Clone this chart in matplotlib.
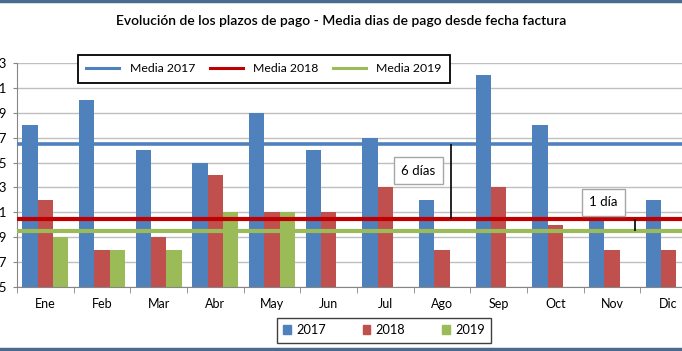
import numpy as np
import matplotlib.pyplot as plt
from matplotlib.lines import Line2D
from matplotlib.patches import Patch, Rectangle

# data
meses = ['Ene', 'Feb', 'Mar', 'Abr', 'May', 'Jun', 'Jul', 'Ago', 'Sep', 'Oct', 'Nov', 'Dic']
dias_2017 = [68, 70, 66, 65, 69, 66, 67, 62, 72, 68, 61, 62]
dias_2018 = [62, 58, 59, 64, 61, 61, 63, 58, 63, 60, 58, 58]
dias_2019 = [59, 58, 58, 61, 61, np.nan, np.nan, np.nan, np.nan, np.nan, np.nan, np.nan]
media_2017 = 66.5
media_2018 = 60.5
media_2019 = 59.5

c17 = '#4F81BD'
c18 = '#C0504D'
c19 = '#9BBB59'

plt.rcParams['font.family'] = ['Lato', 'DejaVu Sans']

W, H = 682, 351
fig = plt.figure(figsize=(W / 100, H / 100), dpi=100, facecolor='white')
ax = fig.add_axes([17 / W, 64 / H, 680 / W, 224 / H])

x = np.arange(len(meses))
w = 0.27
ax.bar(x - w, dias_2017, w, color=c17, zorder=2)
ax.bar(x, dias_2018, w, color=c18, zorder=2)
ax.bar(x + w, dias_2019, w, color=c19, zorder=2)

ax.axhline(media_2017, color=c17, lw=2.6, zorder=3)
ax.axhline(media_2018, color='#C00000', lw=3, zorder=3)
ax.axhline(media_2019, color=c19, lw=3, zorder=3)

# diferencias entre medias
ax.vlines(7.15, media_2018, media_2017, color='black', lw=1.2, zorder=4)
ax.vlines(10.4, media_2019, media_2018, color='black', lw=1.2, zorder=4)
box = dict(boxstyle='square,pad=0.55', fc='white', ec='#A6A6A6', lw=1)
ax.text(6.58, 64.35, '%d días' % round(media_2017 - media_2018), ha='center', va='center',
        fontsize=9.5, bbox=box, zorder=5)
ax.text(9.85, 61.8, '%d día' % round(media_2018 - media_2019), ha='center', va='center',
        fontsize=9.5, bbox=box, zorder=5)

ax.set_xlim(-0.5, len(meses) - 0.5)
ax.set_ylim(55, 73)
ax.set_yticks(range(55, 74, 2))
ax.set_xticks(x)
ax.set_xticklabels(meses, fontsize=9)
ax.set_xticks(np.arange(-0.5, len(meses)), minor=True)
ax.tick_params(axis='x', which='major', length=0, pad=8)
ax.tick_params(axis='x', which='minor', length=4, color='#868686')
ax.tick_params(axis='y', length=3, color='#868686', labelsize=9.5, pad=4.5)
ax.grid(axis='y', color='#BFBFBF', lw=1, zorder=0)
for s in ('top', 'right'):
    ax.spines[s].set_visible(False)
for s in ('left', 'bottom'):
    ax.spines[s].set_color('#868686')

fig.text(0.5, 0.94, 'Evolución de los plazos de pago - Media dias de pago desde fecha factura',
         ha='center', va='center', fontsize=10, fontweight='semibold')

# leyenda de medias (marco dibujado aparte)
fig.add_artist(Rectangle((78 / W, 1 - 83 / H), 372 / W, 28 / H, transform=fig.transFigure,
                         fc='white', ec='black', lw=1.3, zorder=5))
lin = [Line2D([], [], color=c17, lw=2.2), Line2D([], [], color='#C00000', lw=2.2),
       Line2D([], [], color=c19, lw=2.2)]
leg1 = fig.legend(lin, ['Media 2017', 'Media 2018', 'Media 2019'], loc='center',
                  bbox_to_anchor=(264 / W, 1 - 69 / H), ncol=3, fontsize=8.8,
                  frameon=False, handlelength=2.7, handletextpad=0.85, columnspacing=1.2)
leg1.set_zorder(6)

fig.add_artist(Rectangle((277 / W, 1 - 343 / H), 214 / W, 25 / H, transform=fig.transFigure,
                         fc='white', ec='#404040', lw=1, zorder=5))
sq = [Patch(color=c17), Patch(color=c18), Patch(color=c19)]
leg2 = fig.legend(sq, ['2017', '2018', '2019'], loc='center',
                  bbox_to_anchor=(384 / W, 1 - 330 / H), ncol=3, fontsize=9.2,
                  frameon=False, handlelength=0.6, handleheight=0.6, handletextpad=0.4,
                  columnspacing=2.9)
leg2.set_zorder(6)

# marco exterior
fig.add_artist(Line2D([0, 1], [0.997, 0.997], color='#4A6B8F', lw=2.5, transform=fig.transFigure))
fig.add_artist(Line2D([0, 1], [0.006, 0.006], color='#4A6B8F', lw=2.5, transform=fig.transFigure))

fig.savefig('out.png', dpi=100)
